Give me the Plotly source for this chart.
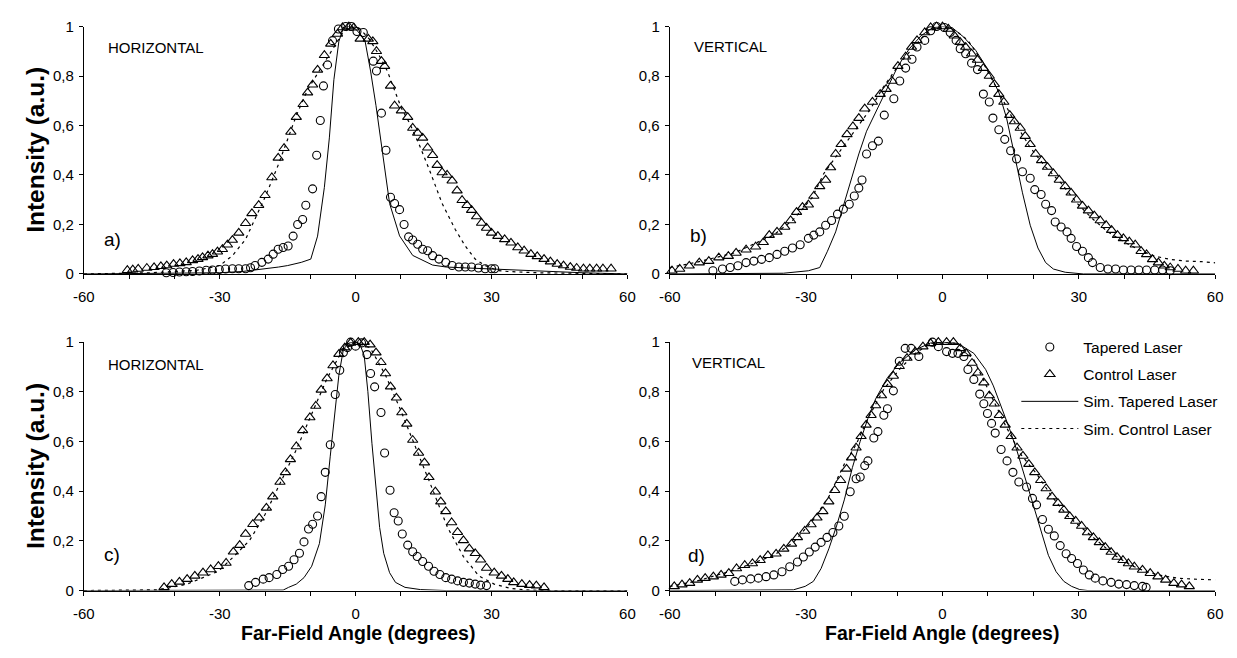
import plotly.graph_objects as go

# ---------------- data (far-field angle in degrees, normalised intensity) ----------------
# Panel a) HORIZONTAL (top left)
a_tap_x = [-41.8,-40.3,-38.9,-37.4,-36,-34.5,-33,-31.6,-30.1,-28.7,-27.2,-25.8,-24.3,-23.2,-22.2,-20.7,-19.3,-18.2,-17.1,-16,
           -14.9,-13.8,-12.8,-11.7,-11,-9.5,-8.6,-7.8,-7.1,-6.2,-5.1,-3.8,-2.2,-1,0.3,1.7,3.9,4.6,5.7,6.7,
           7.7,8.6,9.7,10.7,11.7,12.6,13.7,14.8,15.9,17,18.4,19.9,21.3,22.8,24.2,25.6,27.1,28.6,30,30.7]
a_tap_y = [0.005,0.006,0.008,0.009,0.01,0.012,0.015,0.016,0.018,0.02,0.021,0.021,0.021,0.025,0.034,0.047,0.06,0.08,0.10,0.107,
           0.113,0.153,0.2,0.22,0.278,0.344,0.48,0.62,0.76,0.845,0.943,0.99,1.0,1.0,0.98,0.976,0.86,0.82,0.65,0.5,
           0.31,0.285,0.26,0.2,0.15,0.137,0.12,0.10,0.094,0.074,0.06,0.047,0.034,0.028,0.028,0.028,0.024,0.021,0.021,0.021]
a_ctl_x = [-50.4,-49.2,-48,-46.1,-44.5,-43,-41.7,-40.2,-38.8,-37.4,-36,-34.8,-33.8,-32.6,-31.6,-30.5,-29.4,-28.3,-27.2,-25.8,
           -24.3,-22.9,-21.4,-20,-18.5,-17.1,-15.8,-14.3,-13.1,-11.6,-10.6,-9.5,-8.4,-6.9,-5.5,-4,-2.9,-1.5,-0.4,1.0,
           2.8,3.8,4.6,5.7,6.4,7.7,8.6,10.1,11.5,12.6,13.7,14.8,15.9,17,18,19.1,20.2,21.3,22.4,23.5,
           24.6,25.6,26.7,27.8,28.9,30,31.4,32.9,34.3,35.8,37.2,38.7,40.1,41.6,43,44.5,45.9,47.4,48.8,50.3,
           51.7,53.2,54.6,56.4]
a_ctl_y = [0.015,0.017,0.02,0.024,0.027,0.031,0.034,0.04,0.043,0.047,0.055,0.06,0.067,0.074,0.08,0.09,0.10,0.118,0.137,0.166,
           0.205,0.245,0.278,0.318,0.39,0.469,0.508,0.574,0.634,0.686,0.733,0.765,0.825,0.884,0.93,0.97,0.996,1.0,0.995,0.95,
           0.95,0.94,0.90,0.86,0.84,0.76,0.68,0.66,0.634,0.59,0.57,0.55,0.51,0.48,0.44,0.41,0.40,0.377,0.337,0.298,
           0.278,0.258,0.232,0.206,0.186,0.166,0.153,0.14,0.126,0.107,0.094,0.08,0.071,0.06,0.05,0.04,0.034,0.028,0.024,0.021,
           0.021,0.021,0.021,0.021]
a_simtap_x = [-60,-40,-30,-25,-20,-17,-15,-12,-9.9,-8.4,-6.9,-5.8,-4.8,-3.7,-2.6,-1.2,0,1,2.1,3.3,4.5,5.9,7.5,9.7,12.6,
              17,20,25,30,35,40,50,60]
a_simtap_y = [0,0.002,0.005,0.01,0.02,0.028,0.034,0.047,0.06,0.153,0.35,0.55,0.785,0.94,1.0,1.0,0.99,0.97,0.94,0.82,0.68,
              0.5,0.285,0.154,0.075,0.036,0.028,0.024,0.02,0.015,0.01,0.005,0.0]
a_simctl_x = [-60,-45,-40,-35,-30,-27.2,-24.3,-22.2,-20,-17.1,-14.9,-13.1,-10.6,-8.4,-5.5,-3,-1,1,3,5,
              7,8.6,10.1,11.9,14.1,16.3,19.1,22,24.2,26.4,28.6,31.4,33.6,40,60]
a_simctl_y = [0,0.005,0.01,0.015,0.034,0.074,0.14,0.22,0.31,0.44,0.55,0.64,0.745,0.81,0.90,0.97,1.0,0.99,0.95,0.89,
              0.82,0.74,0.67,0.61,0.52,0.42,0.285,0.18,0.113,0.06,0.034,0.014,0.01,0.005,0.0]

# Panel b) VERTICAL (top right)
b_tap_x = [-50.5,-48.4,-46.7,-45,-43.2,-41.5,-39.8,-38.1,-36.4,-34.7,-33,-31.3,-29.5,-28.3,-27,-25.7,-24.4,-23.1,-21.8,-20.5,
           -19.4,-18.4,-17.7,-16.7,-15.4,-14.1,-12.8,-10.7,-9.4,-8.1,-6.7,-5.6,-3.9,-2.6,-1.3,0.4,1.7,3,3.9,5.1,
           6.4,7.7,9,10.3,11.1,12.4,13.7,15,16.3,17.6,19.3,20.3,21.7,22.7,24,24.8,26.1,27.4,28.3,29.5,
           30.8,32.1,33,34.7,36.4,38.1,39.8,41.5,43.2,44.9,46.7,48.4,50.1]
b_tap_y = [0.013,0.02,0.026,0.033,0.046,0.052,0.059,0.066,0.079,0.092,0.105,0.118,0.144,0.157,0.17,0.197,0.216,0.242,0.262,0.282,
           0.315,0.347,0.38,0.485,0.518,0.537,0.642,0.708,0.78,0.832,0.868,0.917,0.944,0.983,1.0,0.996,0.976,0.944,0.91,0.89,
           0.852,0.826,0.727,0.695,0.63,0.583,0.544,0.498,0.465,0.413,0.387,0.341,0.321,0.282,0.256,0.21,0.19,0.17,0.144,0.111,
           0.092,0.066,0.046,0.026,0.02,0.02,0.016,0.016,0.016,0.016,0.016,0.016,0.013]
b_ctl_x = [-59.5,-57.8,-55.7,-53.5,-51.4,-49.2,-47.1,-45.4,-43.2,-41.1,-39.4,-38.1,-36.4,-34.7,-33.4,-32.1,-30.8,-29.5,-28.3,-27,
           -25.7,-24.6,-23.5,-22.3,-21,-19.7,-18.4,-17.1,-15.4,-13.7,-12.4,-11.1,-9.8,-8.1,-6.8,-5.6,-3.9,-2.6,-1.3,0,
           1.3,2.6,3.9,5.1,6.4,7.7,9,10.3,11.4,12.4,13.5,14.8,15.8,17.1,18.2,19.3,20.5,21.8,23.1,24.4,
           25.7,27,28.3,29.5,30.8,32.1,33.4,34.7,36,37.2,38.5,39.8,41.1,42.4,43.7,44.9,46.2,47.5,48.8,50.1,
           51.8,53.5,55.2]
b_ctl_y = [0.013,0.02,0.033,0.046,0.052,0.066,0.072,0.085,0.098,0.11,0.128,0.157,0.17,0.19,0.216,0.25,0.27,0.28,0.315,0.354,
           0.38,0.43,0.485,0.524,0.564,0.596,0.63,0.668,0.695,0.727,0.747,0.78,0.84,0.878,0.917,0.944,0.976,0.996,1.0,1.0,
           0.99,0.963,0.937,0.917,0.89,0.865,0.832,0.8,0.767,0.727,0.695,0.642,0.616,0.59,0.557,0.524,0.485,0.459,0.432,0.406,
           0.38,0.354,0.328,0.30,0.275,0.256,0.236,0.216,0.197,0.177,0.157,0.144,0.131,0.118,0.092,0.079,0.059,0.046,0.033,0.026,
           0.02,0.013,0.013]
b_simtap_x = [-60,-35,-29.5,-27,-25.3,-23.5,-21.8,-20.1,-18.4,-16.7,-15,-13.3,-11.6,-9.8,-7.3,-4.7,-2.1,0,2.1,4.7,
              7.3,9.8,12.4,14.1,15.8,17.6,19.3,21,22.7,24.4,27,28.7,31,60]
b_simtap_y = [0,0.003,0.013,0.026,0.092,0.17,0.275,0.38,0.485,0.577,0.642,0.708,0.773,0.84,0.91,0.963,0.996,1.0,0.996,0.957,
              0.904,0.832,0.734,0.63,0.485,0.328,0.197,0.105,0.046,0.02,0.007,0.003,0,0]
b_simctl_x = [-60,-54.4,-45.8,-37.2,-33,-28.7,-26.1,-23.5,-21,-18.4,-15.8,-13.3,-9.8,-6.4,-3,0,3,5.6,9,12.4,
              15.8,19.3,22.7,26.1,29.5,33,36.4,39.8,43.2,46.7,50.1,53.5,56.9,60]
b_simctl_y = [0.026,0.046,0.085,0.157,0.216,0.308,0.406,0.472,0.537,0.603,0.668,0.747,0.84,0.917,0.983,1.0,0.983,0.944,0.852,0.734,
              0.616,0.511,0.432,0.367,0.288,0.223,0.17,0.131,0.098,0.072,0.059,0.052,0.05,0.045]

# Panel c) HORIZONTAL (bottom left)
c_tap_x = [-23.6,-22.1,-20.4,-19.1,-17.4,-16.1,-14.8,-13.6,-12.4,-11.4,-10.4,-9.5,-8.4,-7.6,-6.7,-5.6,-4.5,-3.5,-2.7,-1.8,
           -1.1,0,1.3,2.5,3.3,4.2,5.6,6.4,7.6,8.5,9.4,10.3,11.5,12.6,13.6,14.8,16.1,17.3,18.6,19.9,
           21.2,22.5,23.8,25.1,26.4,27.6,28.9]
c_tap_y = [0.02,0.033,0.046,0.052,0.065,0.085,0.098,0.124,0.15,0.196,0.248,0.267,0.3,0.378,0.476,0.587,0.789,0.887,0.958,0.978,
           1.0,0.984,0.997,0.95,0.874,0.82,0.717,0.554,0.404,0.313,0.28,0.228,0.183,0.156,0.137,0.117,0.098,0.078,0.065,0.052,
           0.046,0.039,0.033,0.03,0.026,0.022,0.02]
c_ctl_x = [-42.3,-40.6,-38.9,-37.2,-35.5,-33.7,-32,-30.3,-28.6,-27,-25.6,-24.3,-22.7,-21.3,-19.7,-18.3,-16.7,-15.5,-14.4,-13.1,
           -11.7,-10.1,-8.8,-7.6,-6.3,-5,-3.7,-2.4,-1.1,0.6,1.9,3.2,4.5,5.6,6.6,7.7,9,10.2,11.3,12.6,
           13.9,15.2,16.2,17.6,18.8,19.9,21.2,22.5,23.8,25.1,26.4,27.6,28.9,30.6,32.2,33.6,34.9,36.7,38.4,39.9,
           41.6]
c_ctl_y = [0.013,0.026,0.035,0.046,0.059,0.072,0.085,0.098,0.111,0.156,0.183,0.228,0.267,0.293,0.333,0.378,0.437,0.476,0.528,0.58,
           0.645,0.697,0.743,0.808,0.854,0.906,0.952,0.978,0.997,1.0,1.0,0.99,0.958,0.919,0.874,0.821,0.776,0.717,0.671,0.606,
           0.554,0.515,0.456,0.398,0.358,0.319,0.274,0.235,0.202,0.169,0.15,0.124,0.091,0.072,0.059,0.046,0.033,0.026,0.022,0.02,
           0.013]
c_simtap_x = [-60,-30,-16,-14.8,-13.1,-11.4,-9.7,-8,-6.7,-5.6,-4.5,-3.7,-2.7,-1.5,0,1,1.9,2.7,3.6,4.5,
              5.3,6.2,7.5,8.8,10.9,14.3,20,60]
c_simtap_y = [0,0,0.002,0.013,0.026,0.052,0.098,0.189,0.345,0.541,0.724,0.867,0.971,0.997,1.0,0.99,0.945,0.802,0.593,0.411,
              0.254,0.15,0.072,0.033,0.013,0.004,0,0]
c_simctl_x = [-60,-44,-40.6,-37.2,-33.7,-30.3,-26.9,-23.4,-20,-16.6,-13.1,-9.7,-6.3,-2.8,0,3.2,6.6,10,13.5,16.9,
              20.3,23.8,27.2,30.6,34.1,37.5,42,60]
c_simctl_y = [0,0.003,0.013,0.026,0.052,0.078,0.137,0.202,0.306,0.437,0.567,0.711,0.854,0.971,0.997,0.978,0.867,0.724,0.567,0.411,
              0.254,0.137,0.059,0.026,0.009,0.003,0,0]

# Panel d) VERTICAL (bottom right)
d_tap_x = [-45.7,-44,-42.2,-40.5,-38.8,-37.1,-35.3,-33.6,-31.9,-30.6,-29.3,-28,-26.7,-25.4,-24.1,-22.8,-21.6,-20.3,-19,-18.1,
           -17.1,-16.4,-15.1,-14.2,-12.9,-12.1,-10.8,-9.5,-8.2,-6.9,-5.2,-3.4,-2.2,-0.9,0.9,2.2,3.4,4.7,5.6,6.9,
           8.2,9.1,9.9,10.8,11.6,12.9,14.2,15.5,16.8,18.5,19.8,20.7,22,23.3,24.6,25.9,27.2,28.4,29.7,31,
           32.3,33.6,35.3,37.1,38.8,40.5,42.2,44,44.8]
d_tap_y = [0.037,0.043,0.047,0.05,0.056,0.063,0.076,0.096,0.115,0.135,0.155,0.175,0.194,0.214,0.234,0.26,0.299,0.398,0.45,0.457,
           0.503,0.522,0.614,0.64,0.706,0.732,0.804,0.923,0.975,0.975,0.942,1.01,1.0,0.982,0.962,0.955,0.955,0.942,0.89,0.85,
           0.791,0.752,0.713,0.673,0.634,0.568,0.522,0.476,0.437,0.417,0.371,0.345,0.286,0.247,0.22,0.181,0.148,0.129,0.109,0.083,
           0.063,0.05,0.039,0.033,0.026,0.024,0.02,0.017,0.013]
d_ctl_x = [-59,-57.3,-55.6,-53.9,-52.2,-50.4,-48.7,-47,-45.3,-43.5,-41.8,-40.1,-38.4,-36.6,-34.9,-33.2,-31.9,-30.3,-28.9,-27.6,
           -26.3,-25,-23.7,-22.4,-21.1,-20,-19,-17.9,-16.8,-15.7,-14.7,-13.4,-12.1,-10.8,-9.5,-7.8,-6,-4.3,-2.6,-0.9,
           0.9,2.4,3.9,5.2,6.5,7.8,9.1,10.3,11.4,12.5,13.8,15.1,16.4,17.7,19,20.3,21.6,22.8,24.1,25.4,
           26.7,28,29.3,30.6,31.9,33.2,34.5,35.8,37.1,38.4,39.7,40.9,42.2,44,45.7,47.4,49.1,50.9,52.6,54.3]
d_ctl_y = [0.017,0.024,0.03,0.043,0.05,0.056,0.063,0.07,0.089,0.102,0.109,0.122,0.142,0.148,0.168,0.188,0.214,0.24,0.266,0.293,
           0.319,0.358,0.404,0.444,0.49,0.535,0.575,0.621,0.667,0.706,0.745,0.785,0.831,0.864,0.903,0.936,0.962,0.982,0.995,1.0,
           1.0,1.0,0.975,0.955,0.916,0.877,0.837,0.785,0.752,0.706,0.667,0.621,0.575,0.542,0.509,0.476,0.444,0.411,0.378,0.352,
           0.325,0.299,0.28,0.26,0.234,0.214,0.194,0.175,0.155,0.135,0.122,0.109,0.096,0.083,0.07,0.056,0.043,0.03,0.024,0.017]
d_simtap_x = [-60,-34,-32.8,-30.2,-28.4,-26.7,-25,-23.3,-21.6,-19.8,-18.1,-16.4,-14.7,-12.1,-9.5,-6,-2.6,0,3.4,6.9,
              9.5,11.2,12.9,14.7,16.4,18.1,19.8,21.6,23.3,25,26.7,28.4,30.2,32,60]
d_simtap_y = [0,0,0.003,0.017,0.037,0.089,0.168,0.26,0.365,0.496,0.601,0.693,0.772,0.857,0.916,0.969,0.997,1.0,0.995,0.955,
              0.89,0.824,0.745,0.654,0.562,0.457,0.352,0.247,0.142,0.076,0.037,0.017,0.004,0,0]
d_simctl_x = [-60,-54.3,-45.7,-37.1,-32.8,-28.4,-25,-21.6,-19,-16.4,-12.9,-9.5,-6,-2.6,0,3.4,6.9,10.3,13.8,17.2,
              20.7,24.1,27.6,31,34.5,37.9,41.4,44.8,48.3,51.7,55.2,60]
d_simctl_y = [0.017,0.037,0.083,0.142,0.194,0.286,0.378,0.509,0.588,0.693,0.811,0.89,0.955,0.995,1.0,0.995,0.929,0.798,0.667,0.549,
              0.47,0.378,0.299,0.247,0.194,0.142,0.102,0.076,0.06,0.05,0.046,0.043]

series_names = ["Tapered Laser", "Control Laser", "Sim. Tapered Laser", "Sim. Control Laser"]
panel_letters = ["a)", "b)", "c)", "d)"]
panel_titles = ["HORIZONTAL", "VERTICAL", "HORIZONTAL", "VERTICAL"]
x_tick_vals = [-60, -50, -40, -30, -20, -10, 0, 10, 20, 30, 40, 50, 60]
x_tick_text = ["-60", "", "", "-30", "", "", "0", "", "", "30", "", "", "60"]
y_tick_vals = [0, 0.2, 0.4, 0.6, 0.8, 1.0]
y_tick_text = ["0", "0,2", "0,4", "0,6", "0,8", "1"]
y_title = "Intensity (a.u.)"
x_title = "Far-Field Angle (degrees)"

panels = [
    (a_tap_x, a_tap_y, a_ctl_x, a_ctl_y, a_simtap_x, a_simtap_y, a_simctl_x, a_simctl_y),
    (b_tap_x, b_tap_y, b_ctl_x, b_ctl_y, b_simtap_x, b_simtap_y, b_simctl_x, b_simctl_y),
    (c_tap_x, c_tap_y, c_ctl_x, c_ctl_y, c_simtap_x, c_simtap_y, c_simctl_x, c_simctl_y),
    (d_tap_x, d_tap_y, d_ctl_x, d_ctl_y, d_simtap_x, d_simtap_y, d_simctl_x, d_simctl_y),
]

# ---------------- layout geometry ----------------
W, H = 1237, 658
FONT = "Liberation Sans, Arial, sans-serif"

def fx(p):
    return p / W

def fy(p):
    return 1 - p / H

x_domains = [[fx(74), fx(626)], [fx(669), fx(1223)], [fx(74), fx(626)], [fx(669), fx(1223)]]
y_domains = [[fy(272), fy(18)], [fy(272), fy(18)], [fy(597), fy(342)], [fy(597), fy(342)]]

fig = go.Figure()

for i, (tx, ty, cx, cy, stx, sty, scx, scy) in enumerate(panels):
    xa = "x" if i == 0 else f"x{i+1}"
    ya = "y" if i == 0 else f"y{i+1}"
    show = (i == 0)
    fig.add_trace(go.Scatter(x=stx, y=sty, xaxis=xa, yaxis=ya, mode="lines",
                             line=dict(color="black", width=1), name=series_names[2],
                             legendgroup="g3", legendrank=3, showlegend=show, cliponaxis=False))
    fig.add_trace(go.Scatter(x=scx, y=scy, xaxis=xa, yaxis=ya, mode="lines",
                             line=dict(color="black", width=1.2, dash="3px,4px"), name=series_names[3],
                             legendgroup="g4", legendrank=4, showlegend=show, cliponaxis=False))
    fig.add_trace(go.Scatter(x=cx, y=cy, xaxis=xa, yaxis=ya, mode="markers",
                             marker=dict(symbol="triangle-up-open", size=9, color="black", line=dict(width=1.1)),
                             name=series_names[1], legendgroup="g2", legendrank=2, showlegend=show, cliponaxis=False))
    fig.add_trace(go.Scatter(x=tx, y=ty, xaxis=xa, yaxis=ya, mode="markers",
                             marker=dict(symbol="circle-open", size=8, color="black", line=dict(width=1.1)),
                             name=series_names[0], legendgroup="g1", legendrank=1, showlegend=show, cliponaxis=False))

tick_font = dict(family=FONT, size=15, color="black")
layout_axes = {}
for i in range(4):
    xk = "xaxis" if i == 0 else f"xaxis{i+1}"
    yk = "yaxis" if i == 0 else f"yaxis{i+1}"
    ya = "y" if i == 0 else f"y{i+1}"
    xa = "x" if i == 0 else f"x{i+1}"
    layout_axes[xk] = dict(domain=x_domains[i], anchor=ya, range=[-60, 60], showgrid=False, zeroline=False,
                           showline=True, linecolor="black", linewidth=1, ticks="outside", ticklen=4,
                           tickwidth=1, tickcolor="black", tickmode="array", tickvals=x_tick_vals,
                           ticktext=x_tick_text, tickfont=tick_font, ticklabelstandoff=5, fixedrange=True)
    layout_axes[yk] = dict(domain=y_domains[i], anchor=xa, range=[0, 1], showgrid=False, zeroline=False,
                           showline=True, linecolor="black", linewidth=1, ticks="outside", ticklen=4,
                           tickwidth=1, tickcolor="black", tickmode="array", tickvals=y_tick_vals,
                           ticktext=y_tick_text, tickfont=tick_font, ticklabelstandoff=2, fixedrange=True)

annotations = []
# y-axis titles
for yc in [(18 + 272) / 2, (342 + 597) / 2]:
    annotations.append(dict(xref="paper", yref="paper", x=fx(25), y=fy(yc), text=f"<b>{y_title}</b>",
                            textangle=-90, showarrow=False, xanchor="center", yanchor="middle",
                            font=dict(family=FONT, size=24.5, color="black")))
# x-axis titles
for xc in [352, 946]:
    annotations.append(dict(xref="paper", yref="paper", x=fx(xc), y=fy(641), text=f"<b>{x_title}</b>",
                            showarrow=False, xanchor="center", yanchor="middle",
                            font=dict(family=FONT, size=19.5, color="black")))
# panel titles and letters
title_pos = [(96, 40), (692, 38), (96, 365), (690, 363)]
letter_pos = [(92, 237), (688, 233), (92, 560), (686, 561)]
for i in range(4):
    annotations.append(dict(xref="paper", yref="paper", x=fx(title_pos[i][0]), y=fy(title_pos[i][1]),
                            text=panel_titles[i], showarrow=False, xanchor="left", yanchor="middle",
                            font=dict(family=FONT, size=15, color="black")))
    annotations.append(dict(xref="paper", yref="paper", x=fx(letter_pos[i][0]), y=fy(letter_pos[i][1]),
                            text=panel_letters[i], showarrow=False, xanchor="left", yanchor="middle",
                            font=dict(family=FONT, size=19, color="black")))

fig.update_layout(
    width=W, height=H, margin=dict(l=0, r=0, t=0, b=0),
    paper_bgcolor="white", plot_bgcolor="white",
    annotations=annotations,
    showlegend=True,
    legend=dict(x=fx(1021), y=fy(330), xanchor="left", yanchor="top", bgcolor="rgba(0,0,0,0)",
                borderwidth=0, font=dict(family=FONT, size=15.5, color="black"),
                itemwidth=57, tracegroupgap=4, traceorder="grouped"),
    **layout_axes,
)

fig.write_html("out.html", config={"displayModeBar": False},
               post_script="document.body.style.margin='0';document.body.style.overflow='hidden';")
